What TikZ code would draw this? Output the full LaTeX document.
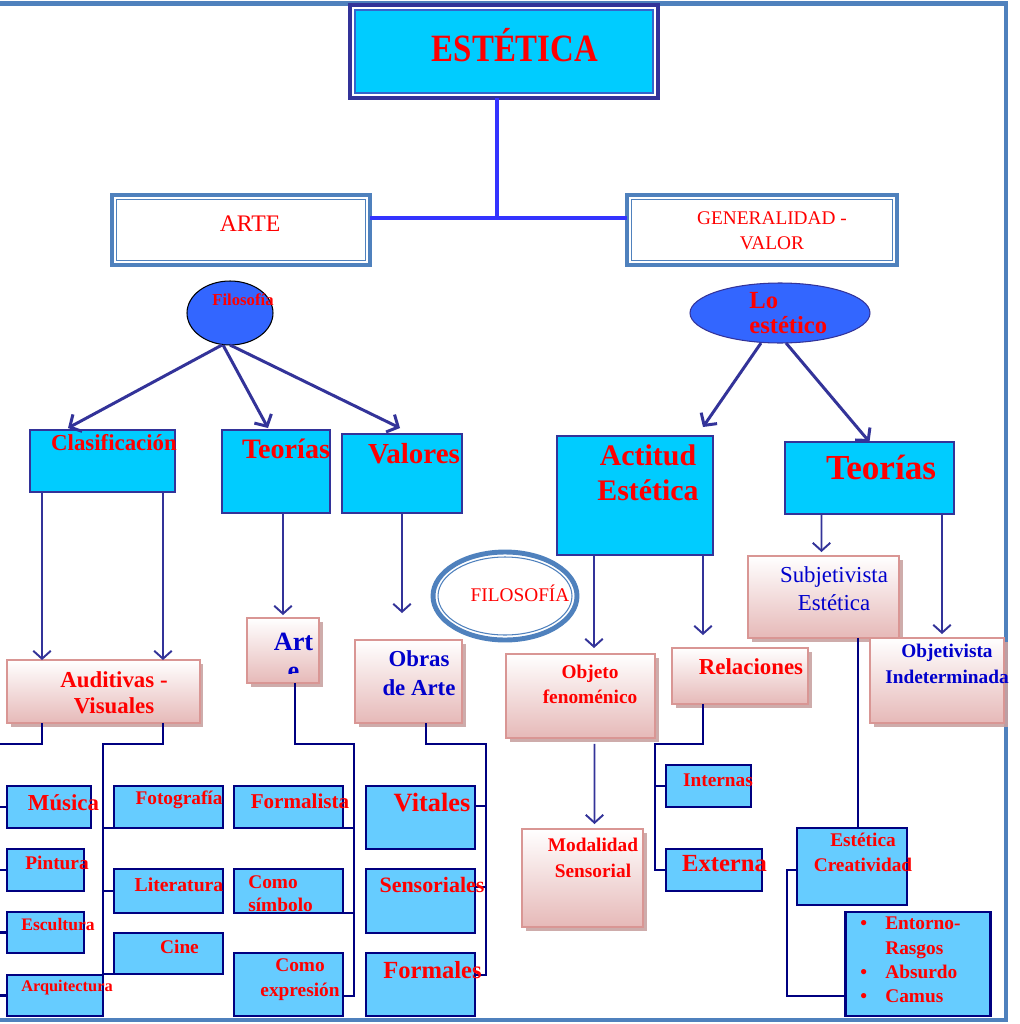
\documentclass[tikz,border=0pt]{standalone}
\usepackage{fontspec}
\setmainfont{Liberation Serif}
\usepackage{tikz}
\usetikzlibrary{arrows.meta, shapes.geometric, shadows}

\definecolor{framebl}{HTML}{4F81BD}
\definecolor{titlecyan}{HTML}{00CCFF}
\definecolor{titlenavy}{HTML}{333399}
\definecolor{titleinner}{HTML}{3366CC}
\definecolor{linkblue}{HTML}{3333FF}
\definecolor{ovalblue}{HTML}{3366FF}
\definecolor{arrnavy}{HTML}{333399}
\definecolor{lightcyan}{HTML}{66CCFF}
\definecolor{treenavy}{HTML}{000080}
\definecolor{pinkbot}{HTML}{E6B9B8}
\definecolor{pinkline}{HTML}{D99694}
\definecolor{pinkshade}{HTML}{C9A3A2}
\definecolor{txtred}{HTML}{FF0000}
\definecolor{txtblue}{HTML}{0000CC}

\newcommand{\fsz}[2]{\fontsize{#1}{#2}\selectfont}

\tikzset{
  titlebox/.style={rectangle, draw=titlenavy, line width=2pt, fill=titlecyan, inner sep=0pt, outer sep=0pt,
    path picture={
      \draw[white, line width=.8pt] ([shift={(.06cm,.06cm)}]path picture bounding box.south west) rectangle ([shift={(-.06cm,-.06cm)}]path picture bounding box.north east);
      \draw[titleinner, line width=1.4pt] ([shift={(.1cm,.1cm)}]path picture bounding box.south west) rectangle ([shift={(-.1cm,-.1cm)}]path picture bounding box.north east);}},
  dblbox/.style={rectangle, draw=framebl, line width=2.3pt, fill=white, inner sep=0pt, outer sep=0pt,
    path picture={\draw[framebl, line width=.6pt] ([shift={(.09cm,.09cm)}]path picture bounding box.south west) rectangle ([shift={(-.09cm,-.09cm)}]path picture bounding box.north east);}},
  oval/.style={ellipse, fill=ovalblue, draw=black, line width=.6pt, inner sep=0pt, outer sep=0pt},
  ringoval/.style={ellipse, draw=framebl, line width=2.8pt, fill=white, inner sep=0pt, outer sep=0pt},
  cbox/.style={rectangle, fill=titlecyan, draw=titlenavy, line width=1.5pt, inner sep=0pt, outer sep=0pt},
  pbox/.style={rectangle, top color=white, bottom color=pinkbot, draw=pinkline, line width=.6pt, inner sep=0pt, outer sep=0pt,
    drop shadow={shadow xshift=2pt, shadow yshift=-2pt, fill=pinkshade, opacity=.9}},
  lbox/.style={rectangle, fill=lightcyan, draw=treenavy, line width=1.3pt, inner sep=0pt, outer sep=0pt},
  rtext/.style={text=txtred, inner sep=0pt},
  btext/.style={text=txtblue, inner sep=0pt},
  bigarr/.style={draw=arrnavy, line width=1.7pt, -{Straight Barb[length=5pt,width=11pt]}},
  arr/.style={draw=arrnavy, line width=1.1pt, -{Straight Barb[length=4.5pt,width=10pt]}},
  tree/.style={draw=treenavy, line width=1.2pt},
  link/.style={draw=linkblue, line width=1.8pt}
}

\begin{document}
\begin{tikzpicture}[x=0.02cm, y=-0.02cm]
  \useasboundingbox (0,0) rectangle (1020,1024);
  \fill[white] (0,0) rectangle (1020,1024);
  \draw[framebl, line width=2.3pt] (-10,3.5) rectangle (1006,1020);

  % top level
  \node[titlebox, minimum width=6.16cm, minimum height=1.86cm] (est) at (504,51.5) {};
  \node[dblbox, minimum width=5.16cm, minimum height=1.4cm] (arte) at (241,230) {};
  \node[dblbox, minimum width=5.4cm, minimum height=1.4cm] (genval) at (762,230) {};
  \coordinate (hub) at (497,218);
  \draw[link] (est.south -| hub) -- (hub);
  \draw[link, line width=2.3pt] (arte.east |- hub) -- (genval.west |- hub);

  % ovals
  \node[oval, minimum width=1.72cm, minimum height=1.28cm] (filo) at (230,313) {};
  \node[oval, draw=titlenavy, minimum width=3.6cm, minimum height=1.2cm] (loest) at (780,313) {};
  \node[ringoval, minimum width=2.88cm, minimum height=1.76cm,
    path picture={\draw[framebl, line width=.6pt] (path picture bounding box.center) ellipse [x radius=1.34cm, y radius=.78cm];}] (ring) at (505,596) {};

  % second level boxes
  \node[cbox, minimum width=2.9cm, minimum height=1.24cm] (clasif) at (102.5,461) {};
  \node[cbox, minimum width=2.16cm, minimum height=1.66cm] (teor1) at (276,471.5) {};
  \node[cbox, minimum width=2.4cm, minimum height=1.58cm] (valor) at (402,473.5) {};
  \node[cbox, minimum width=3.12cm, minimum height=2.38cm] (actit) at (635,495.5) {};
  \node[cbox, minimum width=3.38cm, minimum height=1.44cm] (teor2) at (869.5,478) {};

  % pink boxes
  \node[pbox, minimum width=3.86cm, minimum height=1.26cm] (audvis) at (103.5,691.5) {};
  \node[pbox, minimum width=1.44cm, minimum height=1.3cm] (arte2) at (283,650.5) {};
  \node[pbox, minimum width=2.14cm, minimum height=1.66cm] (obras) at (408.5,681.5) {};
  \node[pbox, minimum width=2.98cm, minimum height=1.68cm] (objeto) at (580.5,696) {};
  \node[pbox, minimum width=2.72cm, minimum height=1.12cm] (relac) at (740,676) {};
  \node[pbox, minimum width=3.02cm, minimum height=1.64cm] (subj) at (823.5,597) {};
  \node[pbox, minimum width=2.68cm, minimum height=1.7cm] (objet) at (937,680.5) {};
  \node[pbox, minimum width=2.42cm, minimum height=1.96cm] (modal) at (582.5,878) {};

  % leaf boxes
  \node[lbox, minimum width=1.68cm, minimum height=.84cm] (musica) at (49,807) {};
  \node[lbox, minimum width=1.54cm, minimum height=.84cm] (pintura) at (45.5,870) {};
  \node[lbox, minimum width=1.54cm, minimum height=.82cm] (escult) at (45.5,932.5) {};
  \node[lbox, minimum width=1.92cm, minimum height=.82cm] (arquit) at (55,995.5) {};
  \node[lbox, minimum width=2.18cm, minimum height=.84cm] (foto) at (168.5,807) {};
  \node[lbox, minimum width=2.18cm, minimum height=.88cm] (litera) at (168.5,891) {};
  \node[lbox, minimum width=2.18cm, minimum height=.82cm] (cine) at (168.5,953.5) {};
  \node[lbox, minimum width=2.18cm, minimum height=.84cm] (formal) at (288.5,807) {};
  \node[lbox, minimum width=2.18cm, minimum height=.88cm] (csimb) at (288.5,891) {};
  \node[lbox, minimum width=2.18cm, minimum height=1.26cm] (cexpr) at (288.5,984.5) {};
  \node[lbox, minimum width=2.18cm, minimum height=1.26cm] (vital) at (420.5,817.5) {};
  \node[lbox, minimum width=2.18cm, minimum height=1.28cm] (sensor) at (420.5,901) {};
  \node[lbox, minimum width=2.18cm, minimum height=1.26cm] (formles) at (420.5,984.5) {};
  \node[lbox, minimum width=1.7cm, minimum height=.84cm] (intern) at (708.5,786) {};
  \node[lbox, minimum width=1.92cm, minimum height=.84cm] (extern) at (714,870) {};
  \node[lbox, minimum width=2.2cm, minimum height=1.54cm] (estcre) at (852,866.5) {};
  \node[lbox, minimum width=2.9cm, minimum height=2.08cm] (bulls) at (918,964) {};

  % arrows
  \draw[bigarr] ([xshift=-.16cm]filo.south) -- ([xshift=.76cm,yshift=.04cm]clasif.north west);
  \draw[bigarr] ([xshift=-.14cm]filo.south) -- ([xshift=.92cm,yshift=.04cm]teor1.north west);
  \draw[bigarr] (filo.south) -- ([xshift=-.04cm,yshift=.12cm]valor.north);
  \draw[bigarr] ([xshift=-.38cm]loest.south) -- ([xshift=-.2cm,yshift=.18cm]actit.north east);
  \draw[bigarr] ([xshift=.12cm]loest.south) -- (teor2.north);
  \draw[arr] ([xshift=.24cm]clasif.south west) -- ([xshift=.7cm]audvis.north west);
  \draw[arr] ([xshift=-.24cm]clasif.south east) -- ([xshift=3.12cm]audvis.north west);
  \draw[arr] ([xshift=.14cm]teor1.south) -- ([yshift=.06cm]arte2.north);
  \draw[arr] (valor.south) -- ([xshift=-.13cm,yshift=.54cm]obras.north);
  \draw[arr] ([xshift=.74cm]actit.south west) -- ([xshift=1.76cm,yshift=.12cm]objeto.north west);
  \draw[arr] ([xshift=-.2cm]actit.south east) -- ([xshift=.62cm,yshift=.26cm]relac.north west);
  \draw[arr] ([xshift=.73cm]teor2.south west) -- ([xshift=-.04cm,yshift=.08cm]subj.north);
  \draw[arr] ([xshift=-.24cm]teor2.south east) -- ([xshift=.1cm,yshift=.08cm]objet.north);
  \draw[arr] ([xshift=.28cm,yshift=-.12cm]objeto.south) -- ([xshift=.24cm,yshift=.1cm]modal.north);

  % tree lines
  \coordinate (avl) at (-3,744);
  \coordinate (avr) at (103,744);
  \draw[tree] ([xshift=.7cm]audvis.south west) |- (avl);
  \draw[tree] (avl) |- (arquit.west);
  \foreach \n in {musica, pintura, escult}
    \draw[tree] (avl |- \n.west) -- (\n.west);
  \draw[tree] ([xshift=3.12cm]audvis.south west) |- (avr) |- (cine.south west);
  \draw[tree] (avr |- foto.south west) -- (foto.south west);
  \draw[tree] (avr |- litera.west) -- (litera.west);

  \coordinate (arj) at (354,744);
  \draw[tree] ([xshift=.24cm]arte2.south) |- (arj) |- ([yshift=-.23cm]cexpr.east);
  \draw[tree] (formal.south east) -- (formal.south east -| arj);
  \draw[tree] (csimb.south east) -- (csimb.south east -| arj);

  \coordinate (obj) at (486,744);
  \draw[tree] ([xshift=.35cm]obras.south) |- (obj) |- ([yshift=.19cm]formles.east);
  \foreach \n/\s in {vital/.23, sensor/.28} {
    \coordinate (tmp) at ([yshift=\s cm]\n.east);
    \draw[tree] (tmp) -- (tmp -| obj);
  }

  \coordinate (rlj) at (655,744);
  \draw[tree] ([xshift=-.74cm]relac.south) |- (rlj) |- (extern.west);
  \draw[tree] (rlj |- intern.west) -- (intern.west);

  \coordinate (sjt) at ([xshift=.69cm]subj.south);
  \draw[tree] (sjt) -- (sjt |- estcre.north);
  \coordinate (ecj) at (787,870);
  \draw[tree] ([yshift=-.07cm]estcre.west) -- ([yshift=-.07cm]estcre.west -| ecj) |- ([yshift=-.64cm]bulls.west);

  % texts
  \node[rtext, font=\fsz{22}{24}\bfseries, xscale=.85] (est-t) at (515,45) {ESTÉTICA};
  \node[rtext, font=\fsz{13.5}{15}] (arte-t) at (250,224) {ARTE};
  \node[rtext, font=\fsz{11}{14.2}, align=center] (genval-t) at (772,230.5) {GENERALIDAD -\\VALOR};
  \node[rtext, font=\fsz{9.5}{11}\bfseries] (filo-t) at (243,300) {Filosofía};
  \node[rtext, font=\fsz{14}{14.2}\bfseries, align=left, anchor=west] (loest-t) at (749,313.5) {Lo\\estético};
  \node[rtext, font=\fsz{11}{13}] (ring-t) at (520,593) {FILOSOFÍA};
  \node[rtext, font=\fsz{13}{15}\bfseries] (clasif-t) at (114,443) {Clasificación};
  \node[rtext, font=\fsz{16}{18}\bfseries] (teor1-t) at (286,449) {Teorías};
  \node[rtext, font=\fsz{16.5}{18}\bfseries] (valor-t) at (414,454) {Valores};
  \node[rtext, font=\fsz{17}{19.8}\bfseries, align=center] (actit-t) at (648,472.5) {Actitud\\Estética};
  \node[rtext, font=\fsz{20}{22}\bfseries] (teor2-t) at (881,467) {Teorías};
  \node[rtext, font=\fsz{13}{14.7}\bfseries, align=center] (audvis-t) at (114,693) {Auditivas -\\Visuales};
  \node[btext, font=\fsz{15}{17}\bfseries, anchor=base] (arte2-t) at (293.5,650) {Art};
  \begin{scope}
    \clip (arte2.north west) rectangle ([yshift=.2cm]arte2.south east);
    \node[btext, font=\fsz{15}{17}\bfseries, anchor=base] (arte2-e) at (293.5,679) {e};
  \end{scope}
  \node[btext, font=\fsz{13}{16.4}\bfseries, align=center] (obras-t) at (419,673.5) {Obras\\de Arte};
  \node[rtext, font=\fsz{11}{14.2}\bfseries, align=center] (objeto-t) at (590,684.5) {Objeto\\fenoménico};
  \node[rtext, font=\fsz{13}{15}\bfseries] (relac-t) at (751,667) {Relaciones};
  \node[btext, font=\fsz{13}{15.9}, align=center] (subj-t) at (834,589) {Subjetivista\\Estética};
  \node[btext, font=\fsz{11}{14.7}\bfseries, align=center] (objet-t) at (947,664) {Objetivista\\Indeterminada};
  \node[rtext, font=\fsz{11}{14.7}\bfseries, align=center] (modal-t) at (593,858) {Modalidad\\Sensorial};
  \node[rtext, font=\fsz{13}{15}\bfseries] (musica-t) at (63.5,803) {Música};
  \node[rtext, font=\fsz{11}{13}\bfseries] (pintura-t) at (57,863) {Pintura};
  \node[rtext, font=\fsz{10}{12}\bfseries] (escult-t) at (58,925) {Escultura};
  \node[rtext, font=\fsz{9.3}{11}\bfseries] (arquit-t) at (67,988) {Arquitectura};
  \node[rtext, font=\fsz{11}{13}\bfseries] (foto-t) at (179,800) {Fotografía};
  \node[rtext, font=\fsz{11.2}{13}\bfseries] (litera-t) at (179,885) {Literatura};
  \node[rtext, font=\fsz{11}{13}\bfseries] (cine-t) at (179.5,947) {Cine};
  \node[rtext, font=\fsz{12}{14}\bfseries] (formal-t) at (300,801) {Formalista};
  \node[rtext, font=\fsz{11}{13}\bfseries, align=left, anchor=west] (csimb-t) at (248,893.5) {Como\\símbolo};
  \node[rtext, font=\fsz{11}{14.2}\bfseries, align=center] (cexpr-t) at (300,979.5) {Como\\expresión};
  \node[rtext, font=\fsz{15}{17}\bfseries] (vital-t) at (432,803) {Vitales};
  \node[rtext, font=\fsz{12.5}{14}\bfseries] (sensor-t) at (432,885) {Sensoriales};
  \node[rtext, font=\fsz{14}{16}\bfseries] (formles-t) at (432.5,970) {Formales};
  \node[rtext, font=\fsz{11}{13}\bfseries] (intern-t) at (718,780) {Internas};
  \node[rtext, font=\fsz{14}{16}\bfseries] (extern-t) at (724.5,864) {Externa};
  \node[rtext, font=\fsz{11}{14.2}\bfseries, align=center] (estcre-t) at (863,852.5) {Estética\\Creatividad};
  \node[rtext, font=\fsz{11}{13.8}\bfseries, anchor=west] (bulls-t) at (860,961.5)
    {\begin{tabular}{@{}p{.5cm}@{}l@{}}\textbullet & Entorno-\\ & Rasgos\\ \textbullet & Absurdo\\ \textbullet & Camus\end{tabular}};
\end{tikzpicture}
\end{document}
